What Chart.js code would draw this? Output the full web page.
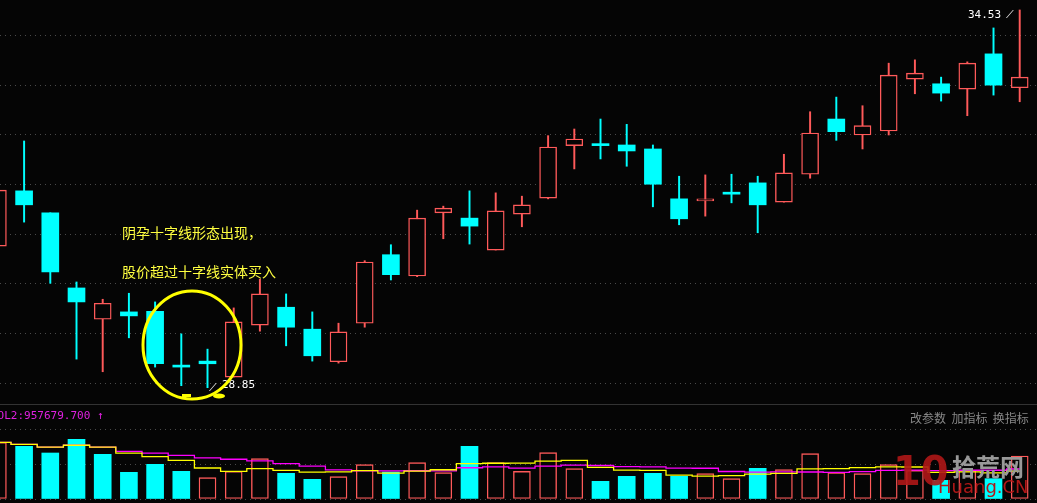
<!DOCTYPE html>
<html>
<head>
<meta charset="utf-8">
<script src="https://cdn.jsdelivr.net/npm/chart.js@4.4.0/dist/chart.umd.min.js"></script>
<style>
  body { margin: 0; background: #050505; width: 1037px; height: 503px; overflow: hidden; position: relative; font-family: "Noto Sans CJK SC", "DejaVu Sans", sans-serif; }
  #main { position: absolute; left: 0; top: 0; }
  #vol { position: absolute; left: 0; top: 405px; }
  .sep { position: absolute; left: 0; top: 404px; width: 1037px; height: 1px; background: #333; }
  .t { position: absolute; white-space: nowrap; }
</style>
</head>
<body>
<canvas id="main" width="1037" height="403"></canvas>
<div class="sep"></div>
<canvas id="vol" width="1037" height="98"></canvas>

<div class="t" style="left:122px;top:222px;color:#ffff40;font-size:14px">阴孕十字线形态出现，</div>
<div class="t" style="left:122px;top:261px;color:#ffff40;font-size:14px">股价超过十字线实体买入</div>
<div class="t" style="left:968px;top:8px;color:#fff;font-size:11px;font-family:'DejaVu Sans Mono'">34.53</div>
<div class="t" style="left:1006px;top:5px;color:#fff;font-size:11px">⟋</div>
<div class="t" style="left:209px;top:378px;color:#fff;font-size:11px">⟋</div>
<div class="t" style="left:222px;top:378px;color:#fff;font-size:11px;font-family:'DejaVu Sans Mono'">28.85</div>
<div class="t" style="left:-9px;top:409px;color:#e020e0;font-size:11px;font-family:'DejaVu Sans Mono'">VOL2:957679.700 ↑</div>
<div class="t" style="left:910px;top:409px;color:#888;font-size:12px">改参数&nbsp;&nbsp;加指标&nbsp;&nbsp;换指标</div>
<div class="t" style="left:893px;top:448px;color:#b01818;font-size:40px;font-weight:bold;opacity:0.9;font-family:'DejaVu Sans'">10</div>
<div class="t" style="left:952px;top:448px;color:#999;font-size:24px;font-weight:bold">拾荒网</div>
<div class="t" style="left:938px;top:476px;color:#b01818;font-size:18px;font-family:'DejaVu Sans'">Huang.CN</div>
<svg style="position:absolute;left:0;top:0" width="1037" height="503">
  <ellipse cx="192" cy="345" rx="49" ry="54" fill="none" stroke="#ffff00" stroke-width="3"/>
  <rect x="182" y="394" width="9" height="3" fill="#ffff00"/>
  <ellipse cx="219" cy="396" rx="6" ry="2.5" fill="#ffff00"/>
</svg>

<script>
// daily candles, index 0 is partly off the left edge
const opens  = [30.98,31.81,31.48,30.35,29.88,29.99,30.00,29.18,29.25,29.01,29.79,30.06,29.73,29.24,29.82,30.85,30.53,31.48,31.40,30.92,31.46,31.70,32.49,32.51,32.50,32.44,31.69,31.66,31.77,31.93,31.64,32.06,32.89,32.65,32.71,33.49,33.42,33.34,33.87,33.36];
const closes = [31.82,31.60,30.59,30.14,30.12,29.93,29.21,29.16,29.21,29.84,30.26,29.76,29.33,29.69,30.74,30.55,31.40,31.55,31.28,31.51,31.60,32.47,32.59,32.49,32.41,31.91,31.39,31.69,31.76,31.60,32.08,32.68,32.70,32.79,33.55,33.58,33.28,33.73,33.40,33.52];
const highs  = [31.85,32.56,31.48,30.44,30.18,30.27,30.14,29.66,29.43,30.05,30.48,30.26,29.99,29.82,30.76,31.00,31.52,31.58,31.81,31.78,31.73,32.64,32.74,32.89,32.81,32.50,32.03,32.05,32.06,32.03,32.36,33.00,33.22,33.09,33.73,33.78,33.52,33.75,34.26,34.53];
const lows   = [30.95,31.34,30.42,29.28,29.09,29.60,29.16,28.88,28.85,29.01,29.70,29.48,29.25,29.22,29.76,30.47,30.52,31.09,31.01,30.92,31.27,31.69,32.14,32.29,32.18,31.57,31.30,31.43,31.63,31.18,31.64,32.00,32.57,32.44,32.65,33.27,33.16,32.94,33.25,33.15];
const volumes = [170,158,138,179,134,80,104,83,64,83,121,77,59,67,103,81,109,79,158,109,83,139,91,53,68,77,68,76,61,92,88,136,79,76,103,86,56,86,61,129];

const RED = '#ff5a5a', CYAN = '#00ffff', BG = '#050505';
const xs = { type: 'linear', min: 0.08, max: 39.66, offset: false, display: false };

function ma(arr, n) {
  return arr.map((_, i) => {
    const s = arr.slice(Math.max(0, i - n + 1), i + 1);
    return s.reduce((a, b) => a + b, 0) / s.length;
  });
}

const up = closes.map((c, i) => c >= opens[i]);
const volUp = closes.map((c, i) => i === 0 || c >= closes[i - 1]);

new Chart(document.getElementById('main'), {
  type: 'bar',
  data: {
    datasets: [
      {
        order: 2,
        data: closes.map((c, i) => ({ x: i, y: [lows[i], highs[i]] })),
        backgroundColor: up.map(u => u ? RED : CYAN),
        barThickness: 1.3,
        grouped: false
      },
      {
        order: 1,
        data: closes.map((c, i) => ({ x: i, y: [opens[i], c] })),
        backgroundColor: up.map(u => u ? BG : CYAN),
        borderColor: up.map(u => u ? RED : CYAN),
        borderWidth: up.map(u => u ? 1.4 : 0),
        borderSkipped: false,
        barThickness: 17,
        minBarLength: 2,
        grouped: false
      }
    ]
  },
  options: {
    responsive: false,
    animation: false,
    layout: { padding: 0 },
    plugins: { legend: { display: false }, tooltip: { enabled: false } },
    scales: {
      x: xs,
      y: {
        min: 28.62, max: 34.68,
        ticks: { display: false },
        afterBuildTicks: ax => { ax.ticks = [0,1,2,3,4,5,6,7].map(k => ({ value: 28.92 + k * 0.746 })); },
        grid: { color: '#4a4a4a', lineWidth: 1, drawTicks: false },
        border: { display: false, dash: [1, 4] }
      }
    }
  }
});

new Chart(document.getElementById('vol'), {
  type: 'bar',
  data: {
    datasets: [
      {
        type: 'line', order: 0,
        data: ma(volumes, 5).map((v, i) => ({ x: i, y: v })),
        borderColor: '#ffff00', borderWidth: 1.3, pointRadius: 0, stepped: 'middle'
      },
      {
        type: 'line', order: 0,
        data: ma(volumes, 10).map((v, i) => ({ x: i, y: v })),
        borderColor: '#ff00ff', borderWidth: 1.3, pointRadius: 0, stepped: 'middle'
      },
      {
        order: 1,
        data: volumes.map((v, i) => ({ x: i, y: v })),
        backgroundColor: volUp.map(u => u ? BG : CYAN),
        borderColor: volUp.map(u => u ? RED : CYAN),
        borderWidth: volUp.map(u => u ? 1.4 : 0),
        borderSkipped: false,
        barThickness: 17
      }
    ]
  },
  options: {
    responsive: false,
    animation: false,
    layout: { padding: 0 },
    plugins: { legend: { display: false }, tooltip: { enabled: false } },
    scales: {
      x: xs,
      y: {
        min: -12, max: 282,
        ticks: { display: false },
        afterBuildTicks: ax => { ax.ticks = [0, 105, 207].map(v => ({ value: v })); },
        grid: { color: '#4a4a4a', drawTicks: false },
        border: { display: false, dash: [1, 4] }
      }
    }
  }
});
</script>
</body>
</html>
